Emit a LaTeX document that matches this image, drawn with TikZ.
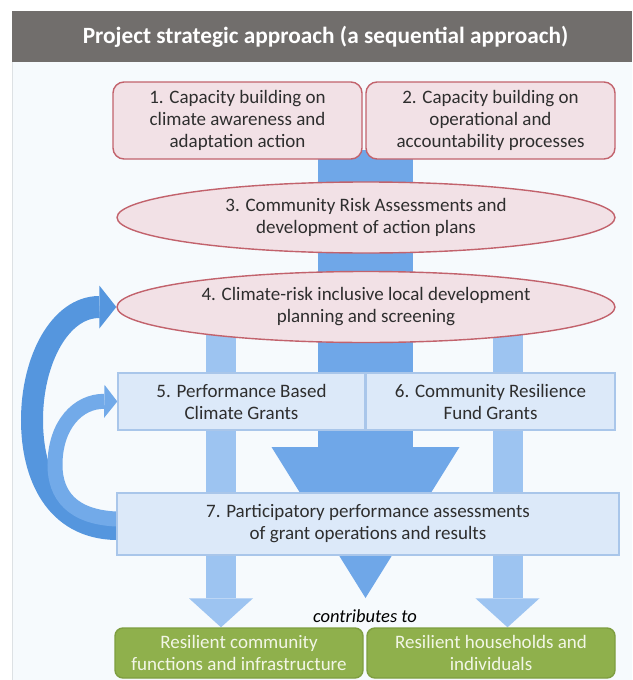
\documentclass[tikz,border=0pt]{standalone}
\usepackage{fontspec}
\setmainfont{Carlito}
\usetikzlibrary{shapes.geometric,arrows.meta}

\definecolor{hdrgray}{HTML}{716E6C}
\definecolor{pagebg}{HTML}{F6FAFD}
\definecolor{edgegray}{HTML}{DDE1E4}
\definecolor{textgray}{HTML}{2E2E2E}
\definecolor{pinkfill}{HTML}{F2E1E6}
\definecolor{pinkline}{HTML}{C2626C}
\definecolor{bluefill}{HTML}{DCE9F9}
\definecolor{blueline}{HTML}{A9C6EA}
\definecolor{greenfill}{HTML}{8FB04C}
\definecolor{greenline}{HTML}{7E9E40}
\definecolor{greentext}{HTML}{F2F6E6}
\definecolor{midblue}{HTML}{6FA7E8}
\definecolor{sideblue}{HTML}{9DC4F1}
\definecolor{loopblue}{HTML}{5596DE}
\definecolor{loopblue2}{HTML}{72AAE9}

\pgfdeclarelayer{back}
\pgfdeclarelayer{arrows}
\pgfsetlayers{back,arrows,main}

\begin{document}
\begin{tikzpicture}[x=1pt, y=-1pt,
  txt/.style={font=\fontsize{19}{22}\selectfont, text=textgray, align=center, inner sep=0pt},
  capbox/.style={txt, draw=pinkline, fill=pinkfill, line width=1.4pt, rounded corners=11pt,
    minimum width=249pt, minimum height=77pt},
  oval/.style={txt, ellipse, draw=pinkline, fill=pinkfill, line width=1.4pt,
    minimum width=498pt, minimum height=71pt},
  grantbox/.style={txt, draw=blueline, fill=bluefill, line width=1.4pt},
  resbox/.style={txt, text=greentext, draw=greenline, fill=greenfill, line width=1.4pt,
    rounded corners=8pt, minimum width=248pt, minimum height=50pt},
  mainarrow/.style={line width=95pt, draw=midblue,
    -{Triangle[width=188pt,length=151pt,line width=0pt]}},
  sidearrow/.style={line width=30pt, draw=sideblue,
    -{Triangle[width=64pt,length=29pt,line width=0pt]}},
  bigloop/.style={line width=22pt, draw=loopblue,
    -{Triangle[width=43pt,length=17pt,line width=0pt]}},
  smallloop/.style={line width=15pt, draw=loopblue2,
    -{Triangle[width=33pt,length=13pt,line width=0pt]}}
]
\useasboundingbox (0,0) rectangle (632,680);

% Page and header
\begin{pgfonlayer}{back}
\fill[white] (0,0) rectangle (632,680);
\fill[pagebg] (12,62) rectangle (632,680);
\draw[edgegray, line width=1pt] (12,62) -- (12,680);
\fill[hdrgray] (12,11) rectangle (632,62);
\end{pgfonlayer}
\node[anchor=base, text=white, inner sep=0pt, font=\fontsize{23.3}{27}\selectfont\bfseries]
  (title) at (325.5,43) {Project strategic approach (a sequential approach)};

% Steps 1 to 4
\node[capbox] (cap1) at (237.5,120.5) {1. Capacity building on\\climate awareness and\\adaptation action};
\node[capbox] (cap2) at (490.5,120.5) {2. Capacity building on\\operational and\\accountability processes};
\node[oval] (risk) at (366,217.5) {3. Community Risk Assessments and\\development of action plans};
\node[oval] (plan) at (366,307) {4. Climate-risk inclusive local development\\planning and screening};

% Grants and assessments
\node[grantbox, minimum width=247pt, minimum height=57pt] (pbcg) at (241.5,401.5) {5. Performance Based\\Climate Grants};
\node[grantbox, minimum width=249pt, minimum height=57pt] (crf) at (490.5,401.5) {6. Community Resilience\\Fund Grants};
\node[grantbox, minimum width=502pt, minimum height=62pt] (assess) at (368,524) {7. Participatory performance assessments\\of grant operations and results};

% Outcomes
\node[anchor=base, inner sep=0pt, text=black, font=\fontsize{18.5}{21}\selectfont\itshape]
  (contrib) at (365,622) {contributes to};
\node[resbox] (community) at (239,653) {Resilient community\\functions and infrastructure};
\node[resbox] (household) at (491,653) {Resilient households and\\individuals};

% Arrows behind the boxes
\coordinate (ctop) at (365.5,150);
\coordinate (ctip) at (365.5,598);
\coordinate (ltop) at (221,320);
\coordinate (rtop) at (507.5,320);
\begin{pgfonlayer}{arrows}
\draw[mainarrow] (ctop) -- (ctip);
\draw[sidearrow] (ltop) -- (ltop |- community.north);
\draw[sidearrow] (rtop) -- (rtop |- household.north);
\draw[bigloop] ([yshift=-5pt]assess.west) .. controls (55,528) and (32,475) .. (32,420)
  .. controls (32,360) and (60,307) .. (plan.west);
\draw[smallloop] ([yshift=5pt]assess.west) .. controls (72,517) and (55,495) .. (55,465)
  .. controls (55,425) and (78,401) .. (pbcg.west);
\end{pgfonlayer}
\end{tikzpicture}
\end{document}
